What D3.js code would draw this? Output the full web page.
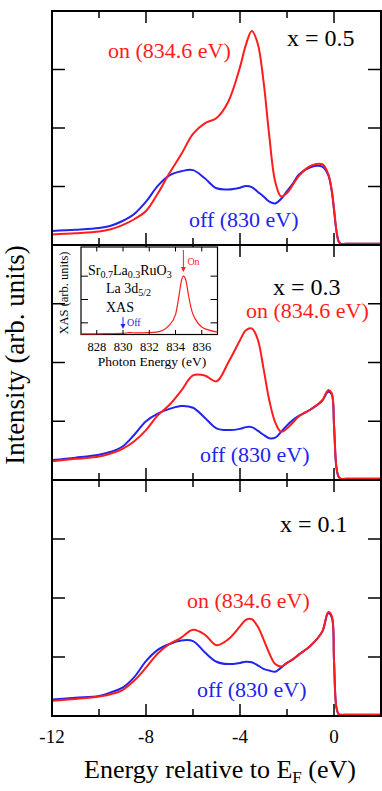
<!DOCTYPE html>
<html>
<head>
<meta charset="utf-8">
<script src="https://cdn.jsdelivr.net/npm/d3@7"></script>
</head>
<body style="margin:0">
<script>
/**
 * Binding energy grid (eV, relative to E_F) shared by all spectra.
 */
const Energy = [-12, -11, -10, -9.5, -9, -8.5, -8, -7.5, -7, -6.5, -6, -5.5, -5, -4.5,
    -4, -3.75, -3.5, -3.25, -3, -2.75, -2.5, -2.25, -2, -1.75, -1.5, -1, -0.5, -0.25,
    -0.1, 0, 0.1, 0.2, 0.3, 0.5, 1, 2];

// x = 0.5
const OnX05 = [0.18, 0.20, 0.23, 0.27, 0.34, 0.44, 0.58, 0.88, 1.23, 1.55, 1.90, 2.08, 2.17, 2.45,
    3.04, 3.42, 3.66, 3.45, 2.80, 1.85, 1.08, 0.83, 0.89, 1.03, 1.18, 1.35, 1.38, 1.22,
    0.95, 0.62, 0.26, 0.06, 0.02, 0.02, 0.02, 0.02];
const OffX05 = [0.24, 0.26, 0.29, 0.33, 0.41, 0.53, 0.74, 1.01, 1.19, 1.26, 1.28, 1.14, 0.97, 0.95,
    0.98, 1.01, 0.99, 0.91, 0.83, 0.74, 0.71, 0.79, 0.92, 1.05, 1.20, 1.33, 1.34, 1.20,
    0.93, 0.60, 0.25, 0.06, 0.02, 0.02, 0.02, 0.02];

// x = 0.3
const OnX03 = [0.32, 0.36, 0.40, 0.45, 0.53, 0.66, 0.85, 1.10, 1.28, 1.52, 1.78, 1.78, 1.68, 2.00,
    2.38, 2.55, 2.58, 2.40, 1.90, 1.35, 0.98, 0.82, 0.88, 0.98, 1.08, 1.20, 1.36, 1.53,
    1.48, 0.95, 0.23, 0.05, 0.02, 0.02, 0.02, 0.02];
const OffX03 = [0.34, 0.38, 0.43, 0.48, 0.57, 0.77, 1.00, 1.13, 1.21, 1.26, 1.23, 1.06, 0.88, 0.85,
    0.87, 0.90, 0.90, 0.84, 0.77, 0.71, 0.72, 0.82, 0.93, 1.02, 1.09, 1.20, 1.35, 1.50,
    1.46, 0.93, 0.22, 0.05, 0.02, 0.02, 0.02, 0.02];

// x = 0.1
const OnX01 = [0.26, 0.29, 0.33, 0.37, 0.44, 0.60, 0.82, 1.06, 1.22, 1.33, 1.46, 1.38, 1.20, 1.30,
    1.52, 1.63, 1.64, 1.52, 1.30, 1.06, 0.88, 0.84, 0.90, 0.96, 1.04, 1.19, 1.43, 1.76,
    1.70, 0.95, 0.15, 0.03, 0.02, 0.02, 0.02, 0.02];
const OffX01 = [0.28, 0.31, 0.34, 0.40, 0.48, 0.66, 0.93, 1.12, 1.22, 1.28, 1.27, 1.08, 0.92, 0.88,
    0.90, 0.92, 0.91, 0.86, 0.80, 0.77, 0.75, 0.82, 0.90, 0.96, 1.04, 1.19, 1.43, 1.74,
    1.68, 0.94, 0.15, 0.03, 0.02, 0.02, 0.02, 0.02];

const DopingLabels = ["x = 0.5", "x = 0.3", "x = 0.1"];
const XTicks = [-12, -10, -8, -6, -4, -2, 0, 2];
const XTickLabels = [-12, -8, -4, 0];

/**
 * Inset: La 3d5/2 XAS spectrum.
 */
const PhotonEnergy = [826.8, 828, 829, 830, 830.5, 831, 832, 832.5, 833, 833.5, 834, 834.25,
    834.45, 834.6, 834.8, 835, 835.25, 835.5, 836, 836.5, 837.2];
const XasIntensity = [0.03, 0.03, 0.04, 0.05, 0.08, 0.07, 0.08, 0.10, 0.17, 0.38, 0.85, 1.60,
    2.30, 2.50, 2.30, 1.65, 1.00, 0.67, 0.32, 0.20, 0.10];
const InsetTicks = [828, 830, 832, 834, 836];

/**
 * Colors and dimensions.
 */
const Red = "#ff1c1c";
const Blue = "#2323ee";
const Serif = "Liberation Serif";
const Width = 382;
const Height = 791;
const Left = 52;
const Right = 381;
const PanelEdges = [11, 245, 480, 716];


const createSvg = () => {
    return d3.select("body")
        .append("svg")
            .attr("width", Width)
            .attr("height", Height)
            .style("display", "block")
            .style("font-family", Serif);
}


// Every text gets its font set inline.
const addText = (parent, size) => {
    return parent.append("text")
        .attr("font-family", Serif)
        .style("font-family", Serif)
        .style("font-size", size + "px");
}


// Squeeze a text to the width it has in the figure if the font runs wide.
const fitWidth = (sel, width) => {
    const len = sel.node().getComputedTextLength();
    if (len > width * 1.06) {
        sel.attr("textLength", width).attr("lengthAdjust", "spacingAndGlyphs");
    }
    return sel;
}


const printPanel = (svg, x, i, on, off) => {
    const top = PanelEdges[i];
    const bottom = PanelEdges[i + 1];
    const y = d3.scaleLinear().domain([0, 4]).range([bottom, top]);
    const g = svg.append("g");

    const line = (values) => d3.line()
        .x((d, k) => x(Energy[k]))
        .y(d => y(d))
        .curve(d3.curveCatmullRom.alpha(0.5))(values);

    // Off resonance below, on resonance on top.
    g.append("path")
        .attr("d", line(off))
        .attr("fill", "none")
        .attr("stroke", Blue)
        .attr("stroke-width", 2);
    g.append("path")
        .attr("d", line(on))
        .attr("fill", "none")
        .attr("stroke", Red)
        .attr("stroke-width", 2);

    // Inward ticks on all four sides.
    const yTicks = [1, 2, 3];
    g.selectAll(".yl")
        .data(yTicks)
        .join("line")
            .attr("x1", Left).attr("x2", Left + 13)
            .attr("y1", d => y(d)).attr("y2", d => y(d))
            .attr("stroke", "#000").attr("stroke-width", 1.5);
    g.selectAll(".yr")
        .data(yTicks)
        .join("line")
            .attr("x1", Right - 13).attr("x2", Right)
            .attr("y1", d => y(d)).attr("y2", d => y(d))
            .attr("stroke", "#000").attr("stroke-width", 1.5);
    const tickLen = d => (d % 4 === 0 ? 12 : 7);
    g.selectAll(".xb")
        .data(XTicks.slice(1, -1))
        .join("line")
            .attr("x1", d => x(d)).attr("x2", d => x(d))
            .attr("y1", bottom).attr("y2", d => bottom - tickLen(d))
            .attr("stroke", "#000").attr("stroke-width", 1.5);
    g.selectAll(".xt")
        .data(XTicks.slice(1, -1))
        .join("line")
            .attr("x1", d => x(d)).attr("x2", d => x(d))
            .attr("y1", top).attr("y2", d => top + tickLen(d))
            .attr("stroke", "#000").attr("stroke-width", 1.5);

    // Frame.
    g.append("rect")
        .attr("x", Left).attr("y", top)
        .attr("width", Right - Left).attr("height", bottom - top)
        .attr("fill", "none")
        .attr("stroke", "#000")
        .attr("stroke-width", 2);
}


const printPanelTexts = (svg) => {
    const texts = [
        // [text, x, baseline, size, color, width in figure]
        [DopingLabels[0], 287, 46, 24, "#000", 73],
        ["on (834.6 eV)", 108, 58, 22, Red, 129],
        ["off (830 eV)", 189, 227, 22, Blue, 115],
        [DopingLabels[1], 273, 295, 24, "#000", 70],
        ["on (834.6 eV)", 246, 318, 22, Red, 127],
        ["off (830 eV)", 200, 462, 22, Blue, 115],
        [DopingLabels[2], 280, 532, 24, "#000", 72],
        ["on (834.6 eV)", 187, 608, 22, Red, 128],
        ["off (830 eV)", 197, 697, 22, Blue, 115],
    ];
    texts.forEach(([t, x, y, size, color, w]) => {
        fitWidth(addText(svg, size)
            .attr("x", x)
            .attr("y", y)
            .attr("fill", color)
            .text(t), w);
    });
}


const printAxes = (svg, x) => {
    XTickLabels.forEach(d => {
        addText(svg, 19)
            .attr("x", x(d))
            .attr("y", 743)
            .attr("text-anchor", "middle")
            .text(d);
    });

    const xl = addText(svg, 26)
        .attr("x", 220)
        .attr("y", 778)
        .attr("text-anchor", "middle");
    xl.append("tspan").text("Energy relative to E");
    xl.append("tspan").attr("dy", 5).style("font-size", "17px").text("F");
    xl.append("tspan").attr("dy", -5).text(" (eV)");

    fitWidth(addText(svg, 27)
        .attr("transform", "translate(24,355) rotate(-90)")
        .attr("text-anchor", "middle")
        .text("Intensity (arb. units)"), 223);
}


const printInset = (svg) => {
    const x = d3.scaleLinear().domain([826.8, 837.2]).range([81, 217.5]);
    const y = d3.scaleLinear().domain([0, 3.75]).range([334.5, 247]);
    const g = svg.append("g");

    g.append("rect")
        .attr("x", 81).attr("y", 247)
        .attr("width", 136.5).attr("height", 87.5)
        .attr("fill", "#fff")
        .attr("stroke", "#000")
        .attr("stroke-width", 1.2);

    g.append("path")
        .attr("d", d3.line()
            .x((d, k) => x(PhotonEnergy[k]))
            .y(d => y(d))
            .curve(d3.curveMonotoneX)(XasIntensity))
        .attr("fill", "none")
        .attr("stroke", Red)
        .attr("stroke-width", 1.2);

    const yTicks = [0.5, 1.5, 2.5];
    g.selectAll(".iyl")
        .data(yTicks)
        .join("line")
            .attr("x1", 81).attr("x2", 88)
            .attr("y1", d => y(d)).attr("y2", d => y(d))
            .attr("stroke", "#000");
    g.selectAll(".iyr")
        .data(yTicks)
        .join("line")
            .attr("x1", 210.5).attr("x2", 217.5)
            .attr("y1", d => y(d)).attr("y2", d => y(d))
            .attr("stroke", "#000");
    g.selectAll(".ixb")
        .data(InsetTicks)
        .join("line")
            .attr("x1", d => x(d)).attr("x2", d => x(d))
            .attr("y1", 334.5).attr("y2", 330)
            .attr("stroke", "#000");
    g.selectAll(".ixt")
        .data(InsetTicks)
        .join("line")
            .attr("x1", d => x(d)).attr("x2", d => x(d))
            .attr("y1", 247).attr("y2", 251.5)
            .attr("stroke", "#000");

    InsetTicks.forEach(d => {
        addText(g, 12.5)
            .attr("x", x(d))
            .attr("y", 351)
            .attr("text-anchor", "middle")
            .text(d);
    });
    addText(g, 13.5)
        .attr("x", 152)
        .attr("y", 366)
        .attr("text-anchor", "middle")
        .text("Photon Energy (eV)");
    addText(g, 12.5)
        .attr("transform", "translate(68,293) rotate(-90)")
        .attr("text-anchor", "middle")
        .text("XAS (arb. units)");

    // Compound and edge description.
    const formula = addText(g, 14).attr("x", 88).attr("y", 275);
    formula.append("tspan").text("Sr");
    formula.append("tspan").attr("dy", 3).style("font-size", "10px").text("0.7");
    formula.append("tspan").attr("dy", -3).text("La");
    formula.append("tspan").attr("dy", 3).style("font-size", "10px").text("0.3");
    formula.append("tspan").attr("dy", -3).text("RuO");
    formula.append("tspan").attr("dy", 3).style("font-size", "10px").text("3");

    const edge = addText(g, 14).attr("x", 106).attr("y", 293);
    edge.append("tspan").text("La 3d");
    edge.append("tspan").attr("dy", 3).style("font-size", "10px").text("5/2");

    addText(g, 14)
        .attr("x", 106).attr("y", 312)
        .text("XAS");

    // Excitation energy markers.
    const arrow = (xv, y1, y2, color, label, ly) => {
        const xp = x(xv);
        g.append("line")
            .attr("x1", xp).attr("x2", xp)
            .attr("y1", y1).attr("y2", y2 - 4)
            .attr("stroke", color).attr("stroke-width", 1);
        g.append("path")
            .attr("d", `M${xp - 2.5},${y2 - 5}L${xp + 2.5},${y2 - 5}L${xp},${y2}Z`)
            .attr("fill", color);
        addText(g, 10)
            .attr("x", xp + 4).attr("y", ly)
            .attr("fill", color)
            .text(label);
    };
    arrow(834.6, 250, 272, Red, "On", 265);
    arrow(830, 317, 329, Blue, "Off", 326);
}


const printChart = () => {
    const svg = createSvg();
    const x = d3.scaleLinear().domain([-12, 2]).range([Left, Right]);
    const series = [[OnX05, OffX05], [OnX03, OffX03], [OnX01, OffX01]];
    series.forEach(([on, off], i) => printPanel(svg, x, i, on, off));
    printPanelTexts(svg);
    printAxes(svg, x);
    printInset(svg);
}


printChart();
</script>
</body>
</html>
